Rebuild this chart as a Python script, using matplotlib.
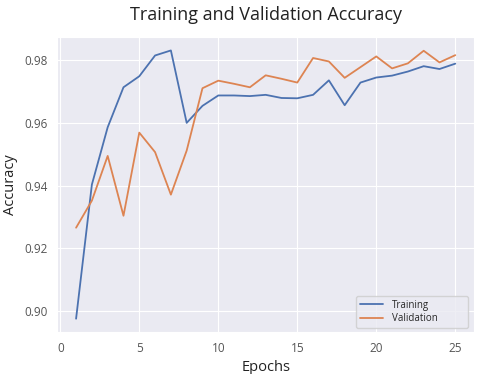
import matplotlib
matplotlib.use("Agg")
import matplotlib.pyplot as plt
import seaborn as sns

# ── Data ─────────────────────────────────────────────────────────
epochs = list(range(1, 26))
train_acc = [0.8977, 0.9403, 0.9585, 0.9712, 0.9747, 0.9813, 0.9829, 0.9599,
             0.9653, 0.9686, 0.9686, 0.9684, 0.9688, 0.9678, 0.9677, 0.9688,
             0.9734, 0.9655, 0.9727, 0.9743, 0.9749, 0.9762, 0.9779, 0.9770,
             0.9787]
val_acc = [0.9266, 0.9352, 0.9494, 0.9304, 0.9568, 0.9506, 0.9371, 0.9511,
           0.9709, 0.9733, 0.9723, 0.9712, 0.9750, 0.9739, 0.9727, 0.9805,
           0.9794, 0.9742, 0.9776, 0.9810, 0.9772, 0.9788, 0.9828, 0.9791,
           0.9814]

# ── Plot ─────────────────────────────────────────────────────────
sns.set_style("darkgrid")
plt.rcParams["font.family"] = ["Open Sans", "DejaVu Sans"]

fig = plt.figure(figsize=(4.8, 3.74), dpi=100)
ax = fig.add_axes([0.119, 0.112, 0.869, 0.789])

ax.plot(epochs, train_acc, color="#4C72B0", linewidth=1.3, label="Training")
ax.plot(epochs, val_acc, color="#DD8452", linewidth=1.3, label="Validation")

ax.set_title("Training and Validation Accuracy", fontsize=13, pad=12,
             color="#222222")
ax.set_xlabel("Epochs", fontsize=10.5, color="#222222")
ax.set_ylabel("Accuracy", fontsize=10.5, color="#222222")
ax.tick_params(labelsize=8.5, colors="#555555")
ax.set_xticks([0, 5, 10, 15, 20, 25])
ax.set_yticks([0.90, 0.92, 0.94, 0.96, 0.98])

# legend box stretched to the width seen in the reference
ax.legend(loc="lower left", bbox_to_anchor=(0.717, 0.014, 0.269, 0.11),
          mode="expand", borderaxespad=0, fontsize=7, handlelength=2.4,
          handletextpad=0.9, labelspacing=0.25, frameon=True)

fig.savefig("out.png", dpi=100)
plt.close()
